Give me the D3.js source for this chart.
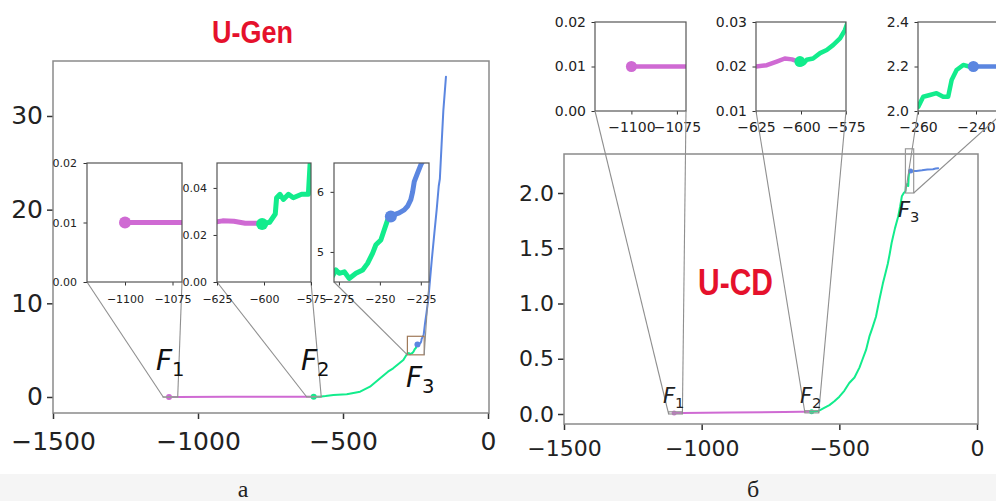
<!DOCTYPE html>
<html><head><meta charset="utf-8">
<script src="https://cdn.jsdelivr.net/npm/d3@7"></script>
<style>body{margin:0;background:#fff}text{font-family:"DejaVu Sans",sans-serif}</style>
</head><body><svg id="c" width="996" height="501"></svg>
<script>
// ---------- data ----------
const mainXTicks = [-1500, -1000, -500, 0];
const genYTicks = [0, 10, 20, 30];
const cdYTicks = [0, 0.5, 1.0, 1.5, 2.0];

// U-Gen (panel a) series: [x, y]
const genPink = [[-1100,0.01],[-1070,0.01],[-900,0.015],[-700,0.022],[-640,0.0245],[-630,0.025],[-622,0.026],[-616,0.0258],[-610,0.025],[-602,0.025]];
const genGreen = [[-601,0.0247],[-597,0.0254],[-594,0.0289],[-593.3,0.0358],[-591.5,0.0373],[-589.7,0.0351],[-587,0.0373],[-584.4,0.0358],[-580,0.0373],[-576.4,0.0373],[-575.5,0.05],[-574,0.06],[-560,0.1],[-533,0.2],[-487,0.3],[-441,0.57],[-407,1.1],[-372,2.0],[-345,2.7],[-327,3.06],[-310,3.5],[-292,3.95],[-283,4.4],[-276.8,4.7],[-274.8,4.645],[-271.7,4.67],[-268.7,4.56],[-264.6,4.645],[-260.5,4.7],[-257.5,4.81],[-254.4,4.98],[-252.4,5.12],[-249.4,5.2],[-247.3,5.37],[-245.3,5.53],[-243.3,5.59]];
const genBlue = [[-243.3,5.59],[-241.2,5.62],[-238.2,5.65],[-235.1,5.7],[-233.1,5.76],[-231.1,5.87],[-230,6.0],[-229,6.17],[-227,6.31],[-225,6.45],[-222,6.6],[-217,7.9],[-212,9.0],[-206,10.4],[-200,12.5],[-194,14.6],[-185,17.5],[-177,20],[-170,22.5],[-166,23.3],[-160,27],[-154,30.6],[-145,34.2]];

// U-CD (panel б) series
const cdPink = [[-1100,0.01],[-1070,0.01],[-900,0.014],[-700,0.018],[-640,0.0198],[-625,0.02],[-619,0.0203],[-613.5,0.0211],[-609,0.0218],[-605,0.0216],[-601.5,0.0211]];
const cdGreen = [[-600.6,0.0211],[-598.5,0.0207],[-596.8,0.0215],[-593.3,0.0218],[-589.4,0.023],[-585.7,0.0237],[-582.2,0.0248],[-578.3,0.0263],[-575.6,0.0282],[-574,0.03],[-570,0.035],[-555,0.055],[-536,0.08],[-518,0.115],[-500,0.157],[-482,0.21],[-464,0.28],[-445,0.33],[-427,0.42],[-415,0.5],[-403,0.58],[-391,0.7],[-380,0.78],[-367,0.88],[-355,1.03],[-342,1.18],[-333,1.27],[-324,1.36],[-317,1.45],[-310,1.55],[-298,1.68],[-286,1.79],[-279,1.88],[-273,1.97],[-266,2.0],[-262,2.01],[-259.9,2.019],[-258.2,2.064],[-255.9,2.072],[-253.6,2.08],[-251.3,2.064],[-249.6,2.064],[-248.4,2.139],[-246.7,2.184],[-244.4,2.207],[-242.1,2.199],[-240.9,2.2]];
const cdBlue = [[-240.9,2.2],[-235,2.2],[-230,2.2],[-220,2.2],[-200,2.205],[-180,2.212],[-160,2.215],[-150,2.222],[-141,2.225]];

// inset definitions (domains and ticks)
const insetXDom1 = [-1120, -1070], insetXTicks1 = [-1100, -1075];
const insetXDom2 = [-625, -575],   insetXTicks2 = [-625, -600, -575];
const genXDom3 = [-278, -220],     genXTicks3 = [-275, -250, -225];
const cdXDom3 = [-260, -230],      cdXTicks3 = [-260, -240];
const genYDom1 = [0, 0.02], genYTicks1 = [0, 0.01, 0.02];
const genYDom2 = [0, 0.0506], genYTicks2 = [0, 0.02, 0.04];
const genYDom3 = [4.5, 6.48], genYTicks3 = [5, 6];
const cdYDom1 = [0, 0.02], cdYTicks1 = [0, 0.01, 0.02];
const cdYDom2 = [0.01, 0.03], cdYTicks2 = [0.01, 0.02, 0.03];
const cdYDom3 = [2.0, 2.4], cdYTicks3 = [2.0, 2.2, 2.4];

const PINK = "#cf6ad3", GREEN = "#12ec8c", BLUE = "#5b86e0";
const minus = s => s.replace(/-/g, "\u2212");

// ---------- drawing ----------
const svg = d3.select("#c");
svg.append("rect").attr("x",0).attr("y",474).attr("width",996).attr("height",27).attr("fill","#f5f5f5");
const defs = svg.append("defs");
const mainLayer = svg.append("g");
const connLayer = svg.append("g");
const insetLayer = svg.append("g");
const topConnLayer = svg.append("g");
const labelLayer = svg.append("g");
let clipId = 0;

function axesBox(parent, cfg) {
  const x = d3.scaleLinear().domain(cfg.xdom).range([cfg.l, cfg.r]);
  const y = d3.scaleLinear().domain(cfg.ydom).range([cfg.b, cfg.t]);
  const g = parent.append("g");
  g.append("rect").attr("x",cfg.l).attr("y",cfg.t).attr("width",cfg.r-cfg.l).attr("height",cfg.b-cfg.t).attr("fill","#fff");
  const id = "clip" + (clipId++);
  defs.append("clipPath").attr("id", id).append("rect")
    .attr("x",cfg.l).attr("y",cfg.t).attr("width",cfg.r-cfg.l).attr("height",cfg.b-cfg.t);
  const data = g.append("g").attr("clip-path", `url(#${id})`);
  const line = d3.line().x(d => x(d[0])).y(d => y(d[1]));
  cfg.series.forEach(s => {
    data.append("path").attr("d", line(s.d)).attr("fill","none").attr("stroke", s.c)
      .attr("stroke-width", cfg.lw).attr("stroke-linejoin","round").attr("stroke-linecap","round");
  });
  cfg.series.forEach(s => {
    data.append("circle").attr("cx", x(s.d[0][0])).attr("cy", y(s.d[0][1])).attr("r", cfg.mr).attr("fill", s.c);
  });
  const ax = d3.axisBottom(x).tickValues(cfg.xticks).tickSize(cfg.tl).tickPadding(cfg.tpx)
    .tickFormat(v => minus(cfg.xfmt(v)));
  const ay = d3.axisLeft(y).tickValues(cfg.yticks).tickSize(cfg.tl).tickPadding(cfg.tpy)
    .tickFormat(v => minus(cfg.yfmt(v)));
  const gx = g.append("g").attr("transform", `translate(0,${cfg.b})`).call(ax);
  const gy = g.append("g").attr("transform", `translate(${cfg.l},0)`).call(ay);
  [gx, gy].forEach(a => {
    a.select(".domain").remove();
    a.selectAll("line").attr("stroke", cfg.tc).attr("stroke-width", cfg.tw);
    a.selectAll("text").attr("fill", "#222").style("font-size", cfg.fs + "px")
      .style("font-family", '"DejaVu Sans", sans-serif');
  });
  g.append("rect").attr("x",cfg.l).attr("y",cfg.t).attr("width",cfg.r-cfg.l).attr("height",cfg.b-cfg.t)
    .attr("fill","none").attr("stroke", cfg.fc).attr("stroke-width", cfg.fw);
  return {x, y, g};
}

function connect(layer, main, inset, rectColor) {
  const xa = main.x(inset.x.domain()[0]), xb = main.x(inset.x.domain()[1]);
  const ya = main.y(inset.y.domain()[0]), yb = main.y(inset.y.domain()[1]);
  const lay = layer.append("g");
  lay.append("rect").attr("x", xa).attr("y", yb).attr("width", Math.max(xb-xa,0.5)).attr("height", Math.max(ya-yb,0.5))
    .attr("fill","none").attr("stroke", rectColor).attr("stroke-width", 1.2);
  const il = inset.x.range()[0], ir = inset.x.range()[1], ib = inset.y.range()[0];
  lay.append("line").attr("x1", il).attr("y1", ib).attr("x2", xa).attr("y2", ya).attr("stroke","#8f8f8f").attr("stroke-width",1.1);
  lay.append("line").attr("x1", ir).attr("y1", ib).attr("x2", xb).attr("y2", ya).attr("stroke","#8f8f8f").attr("stroke-width",1.1);
}

const fmtInt = d3.format("d");
const fmt2 = d3.format(".2f"), fmt1 = d3.format(".1f");

// ===== Panel a: U-Gen =====
const genSeries = [{d:genPink,c:PINK},{d:genGreen,c:GREEN},{d:genBlue,c:BLUE}];
const genMain = axesBox(mainLayer, {l:53, r:489, t:61, b:413, xdom:[-1500, 3.4], ydom:[-1.71, 35.87],
  xticks: mainXTicks, yticks: genYTicks, xfmt: fmtInt, yfmt: fmtInt,
  tl:6, tpx:13, tpy:4, tc:"#333", tw:1.5, fs:25, fc:"#8a8a8a", fw:1.5, lw:2, mr:3, series: genSeries});

const gIn = {tl:3.5, tpx:9.5, tpy:6.5, tc:"#333", tw:1, fs:11, fc:"#555", fw:1.2, lw:5, mr:6, series: genSeries};
const gi1 = axesBox(insetLayer, Object.assign({}, gIn, {l:87, r:182, t:163, b:282, xdom:insetXDom1, ydom:genYDom1,
  xticks:insetXTicks1, yticks:genYTicks1, xfmt:fmtInt, yfmt:fmt2}));
const gi2 = axesBox(insetLayer, Object.assign({}, gIn, {l:217, r:311, t:163, b:282, xdom:insetXDom2, ydom:genYDom2,
  xticks:insetXTicks2, yticks:genYTicks2, xfmt:fmtInt, yfmt:fmt2}));
const gi3 = axesBox(insetLayer, Object.assign({}, gIn, {l:334, r:429, t:163, b:282, xdom:genXDom3, ydom:genYDom3,
  xticks:genXTicks3, yticks:genYTicks3, xfmt:fmtInt, yfmt:fmtInt}));
connect(connLayer, genMain, gi1, "#999");
connect(connLayer, genMain, gi2, "#999");
connect(connLayer, genMain, gi3, "#a07a5a");

// ===== Panel б: U-CD =====
const cdSeries = [{d:cdPink,c:PINK},{d:cdGreen,c:GREEN},{d:cdBlue,c:BLUE}];
const cdMain = axesBox(mainLayer, {l:564, r:978, t:154, b:424, xdom:[-1500, 3.6], ydom:[-0.0905, 2.353],
  xticks: mainXTicks, yticks: cdYTicks, xfmt: fmtInt, yfmt: fmt1,
  tl:6, tpx:10, tpy:4, tc:"#333", tw:1.5, fs:22, fc:"#8a8a8a", fw:1.5, lw:2, mr:2.5, series: cdSeries});
const cIn = {tl:3.5, tpx:7.5, tpy:5.5, tc:"#333", tw:1, fs:14, fc:"#555", fw:1.2, lw:4.5, mr:5.5, series: cdSeries};
const ci1 = axesBox(insetLayer, Object.assign({}, cIn, {l:595, r:686, t:22, b:111, xdom:insetXDom1, ydom:cdYDom1,
  xticks:insetXTicks1, yticks:cdYTicks1, xfmt:fmtInt, yfmt:fmt2}));
const ci2 = axesBox(insetLayer, Object.assign({}, cIn, {l:756, r:846, t:22, b:111, xdom:insetXDom2, ydom:cdYDom2,
  xticks:insetXTicks2, yticks:cdYTicks2, xfmt:fmtInt, yfmt:fmt2}));
const ci3 = axesBox(insetLayer, Object.assign({}, cIn, {l:918, r:1005, t:22, b:111, xdom:cdXDom3, ydom:cdYDom3,
  xticks:cdXTicks3, yticks:cdYTicks3, xfmt:fmtInt, yfmt:fmt1}));
connect(topConnLayer, cdMain, ci1, "#999");
connect(topConnLayer, cdMain, ci2, "#999");
connect(topConnLayer, cdMain, ci3, "#999");

// ---------- labels ----------
function fLabel(x, y, n, fs, col) {
  const t = labelLayer.append("text").attr("x", x).attr("y", y).attr("fill", col || "#111")
    .style("font-size", fs + "px").style("font-style", "italic").style("font-family", '"DejaVu Sans", sans-serif');
  t.append("tspan").text("F");
  t.append("tspan").attr("dy", fs*0.22).style("font-size", (fs*0.7) + "px").style("font-style","normal").text(n);
}
fLabel(156, 370, "1", 28);
fLabel(301, 370, "2", 28);
fLabel(406, 387, "3", 28);
fLabel(663, 403, "1", 21, "#222");
fLabel(800, 403, "2", 21, "#222");
fLabel(898, 217, "3", 21, "#222");

labelLayer.append("text").attr("x", 212).attr("y", 43).attr("fill", "#e5112c")
  .attr("textLength", 81).attr("lengthAdjust", "spacingAndGlyphs")
  .style("font-size", "32px").style("font-weight", "bold").style("font-family", '"Liberation Sans", Arial, sans-serif').text("U-Gen");
labelLayer.append("text").attr("x", 698).attr("y", 295).attr("fill", "#e5112c")
  .attr("textLength", 75).attr("lengthAdjust", "spacingAndGlyphs")
  .style("font-size", "37px").style("font-weight", "bold").style("font-family", '"Liberation Sans", Arial, sans-serif').text("U-CD");

labelLayer.append("text").attr("x", 243).attr("y", 497).attr("text-anchor", "middle").attr("fill", "#222")
  .style("font-size", "24px").style("font-family", '"Liberation Serif", "DejaVu Serif", serif').text("а");
labelLayer.append("text").attr("x", 753).attr("y", 497).attr("text-anchor", "middle").attr("fill", "#222")
  .style("font-size", "24px").style("font-family", '"Liberation Serif", "DejaVu Serif", serif').text("б");
</script></body></html>
